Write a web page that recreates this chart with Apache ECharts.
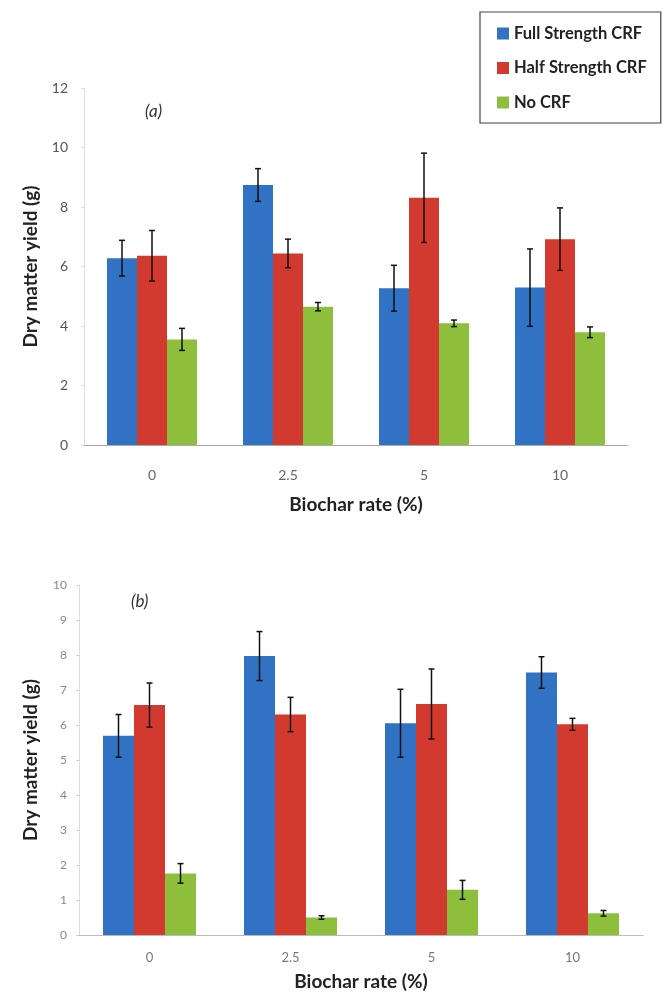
<!DOCTYPE html>
<html>
<head>
<meta charset="utf-8">
<script src="https://cdn.jsdelivr.net/npm/echarts@6/dist/echarts.min.js"></script>
<style>
html,body{margin:0;padding:0;background:#fff;}
#chart{width:665px;height:995px;}
</style>
</head>
<body>
<div id="chart"></div>
<script>
// ---- Data ----
var categories = ['0', '2.5', '5', '10'];
var seriesNames = ['Full Strength CRF', 'Half Strength CRF', 'No CRF'];

// Panel (a)
var aFull = [6.28, 8.74, 5.27, 5.29];
var aFullErr = [0.60, 0.55, 0.77, 1.30];
var aHalf = [6.36, 6.44, 8.31, 6.92];
var aHalfErr = [0.85, 0.48, 1.50, 1.05];
var aNo = [3.55, 4.65, 4.09, 3.79];
var aNoErr = [0.37, 0.14, 0.11, 0.18];

// Panel (b)
var bFull = [5.69, 7.97, 6.05, 7.50];
var bFullErr = [0.61, 0.70, 0.97, 0.45];
var bHalf = [6.57, 6.30, 6.60, 6.02];
var bHalfErr = [0.63, 0.49, 1.00, 0.17];
var bNo = [1.76, 0.50, 1.29, 0.62];
var bNoErr = [0.28, 0.05, 0.27, 0.08];

var aTicks = {min: 0, max: 12, interval: 2};
var bTicks = {min: 0, max: 10, interval: 1};

// ---- Styles ----
var colors = ['#3172c4', '#d33a2f', '#8dbf3c'];
var FONT = 'Lato';

function errData(vals, errs) {
  return vals.map(function (v, i) { return [i, v - errs[i], v + errs[i]]; });
}

function errSeries(name, vals, errs, axisIdx, offset) {
  return {
    type: 'custom',
    name: name,
    xAxisIndex: axisIdx,
    yAxisIndex: axisIdx,
    z: 10,
    silent: true,
    data: errData(vals, errs),
    renderItem: function (params, api) {
      var lo = api.coord([api.value(0), api.value(1)]);
      var hi = api.coord([api.value(0), api.value(2)]);
      var x = lo[0] + offset;
      var cap = 3;
      var st = {stroke: '#111', lineWidth: 1.5};
      return {
        type: 'group',
        children: [
          {type: 'line', shape: {x1: x, y1: lo[1], x2: x, y2: hi[1]}, style: st},
          {type: 'line', shape: {x1: x - cap, y1: lo[1], x2: x + cap, y2: lo[1]}, style: st},
          {type: 'line', shape: {x1: x - cap, y1: hi[1], x2: x + cap, y2: hi[1]}, style: st}
        ]
      };
    }
  };
}

function barSeries(name, vals, axisIdx, color, bw) {
  return {
    type: 'bar',
    name: name,
    xAxisIndex: axisIdx,
    yAxisIndex: axisIdx,
    data: vals,
    barWidth: bw,
    barGap: '0%',
    itemStyle: {color: color},
    emphasis: {disabled: true}
  };
}

var bwA = 30, bwB = 31;

var chart = echarts.init(document.getElementById('chart'), null, {renderer: 'canvas'});

var titleStyle = {fontFamily: FONT, fontWeight: 'bold', fontSize: 19, color: '#222'};

var option = {
  backgroundColor: '#ffffff',
  animation: false,
  textStyle: {fontFamily: FONT},
  legend: {
    data: seriesNames.map(function (n, i) { return {name: n, itemStyle: {color: colors[i]}}; }),
    orient: 'vertical',
    left: 480,
    top: 12,
    icon: 'rect',
    itemWidth: 12,
    itemHeight: 12,
    itemGap: 17.5,
    padding: [13, 14, 12, 17],
    borderColor: '#444',
    borderWidth: 1.2,
    textStyle: {fontFamily: FONT, fontWeight: 'bold', fontSize: 16.5, color: '#222'}
  },
  graphic: [
    {type: 'text', left: 145, top: 103, style: {text: '(a)', font: 'italic 17px Lato', fill: '#333'}},
    {type: 'text', left: 131, top: 593, style: {text: '(b)', font: 'italic 17px Lato', fill: '#333'}}
  ],
  grid: [
    {left: 84, right: 37, top: 88, bottom: 550},
    {left: 79, right: 22, top: 585, bottom: 60}
  ],
  xAxis: [
    {
      type: 'category', gridIndex: 0, data: categories,
      axisLine: {lineStyle: {color: '#aaa', width: 1}},
      axisTick: {show: false},
      axisLabel: {color: '#666', fontSize: 14, margin: 23, fontFamily: FONT},
      name: 'Biochar rate (%)', nameLocation: 'middle', nameGap: 50,
      nameTextStyle: titleStyle
    },
    {
      type: 'category', gridIndex: 1, data: categories,
      axisLine: {lineStyle: {color: '#bbb', width: 1}},
      axisTick: {show: false},
      axisLabel: {color: '#777', fontSize: 13, margin: 16, fontFamily: FONT},
      name: 'Biochar rate (%)', nameLocation: 'middle', nameGap: 37,
      nameTextStyle: titleStyle
    }
  ],
  yAxis: [
    {
      type: 'value', gridIndex: 0, min: aTicks.min, max: aTicks.max, interval: aTicks.interval,
      axisLine: {show: true, lineStyle: {color: '#ddd'}},
      axisTick: {show: true, length: 3, lineStyle: {color: '#ddd'}},
      splitLine: {show: false},
      axisLabel: {color: '#555', fontSize: 14, margin: 16, fontFamily: FONT},
      name: 'Dry matter yield (g)', nameLocation: 'middle', nameGap: 38, nameRotate: 90,
      nameTextStyle: titleStyle
    },
    {
      type: 'value', gridIndex: 1, min: bTicks.min, max: bTicks.max, interval: bTicks.interval,
      axisLine: {show: true, lineStyle: {color: '#ddd'}},
      axisTick: {show: true, length: 3, lineStyle: {color: '#ccc'}},
      splitLine: {show: false},
      axisLabel: {color: '#888', fontSize: 12, margin: 12, fontFamily: FONT},
      name: 'Dry matter yield (g)', nameLocation: 'middle', nameGap: 39, nameRotate: 90,
      nameTextStyle: titleStyle
    }
  ],
  series: [
    barSeries(seriesNames[0], aFull, 0, colors[0], bwA),
    barSeries(seriesNames[1], aHalf, 0, colors[1], bwA),
    barSeries(seriesNames[2], aNo, 0, colors[2], bwA),
    barSeries(seriesNames[0], bFull, 1, colors[0], bwB),
    barSeries(seriesNames[1], bHalf, 1, colors[1], bwB),
    barSeries(seriesNames[2], bNo, 1, colors[2], bwB),
    errSeries(seriesNames[0], aFull, aFullErr, 0, -bwA),
    errSeries(seriesNames[1], aHalf, aHalfErr, 0, 0),
    errSeries(seriesNames[2], aNo, aNoErr, 0, bwA),
    errSeries(seriesNames[0], bFull, bFullErr, 1, -bwB),
    errSeries(seriesNames[1], bHalf, bHalfErr, 1, 0),
    errSeries(seriesNames[2], bNo, bNoErr, 1, bwB)
  ]
};

chart.setOption(option);
</script>
</body>
</html>
